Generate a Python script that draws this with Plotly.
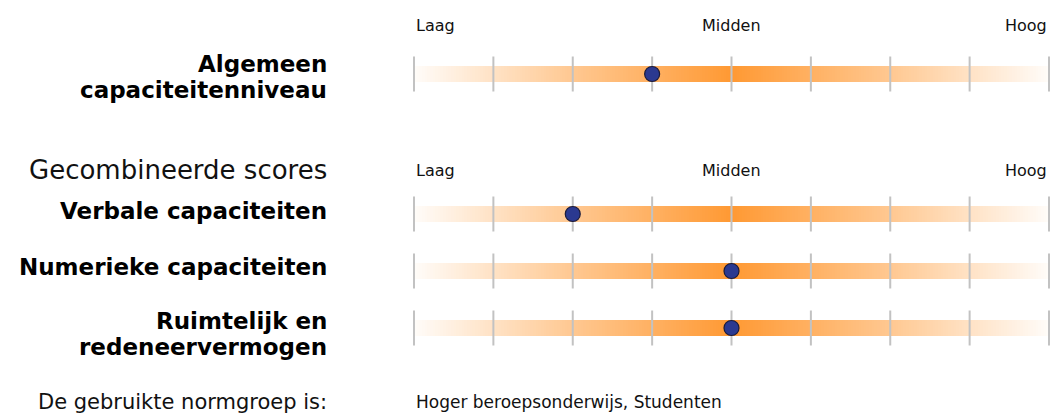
import numpy as np
import plotly.graph_objects as go

# ---- data ----
scale_labels = ["Laag", "Midden", "Hoog"]
scale_label_pos = [0, 4, 8]
ticks = [0, 1, 2, 3, 4, 5, 6, 7, 8]
categories = [["Algemeen", "capaciteitenniveau"], ["Verbale capaciteiten"],
              ["Numerieke capaciteiten"], ["Ruimtelijk en", "redeneervermogen"]]
scores = [3, 2, 4, 4]
section_title = "Gecombineerde scores"
norm_label = "De gebruikte normgroep is:"
norm_value = "Hoger beroepsonderwijs, Studenten"

# ---- layout constants ----
W, H = 1054, 416
x0_px, x8_px = 414, 1049
span = (ticks[-1] - ticks[0]) * W / (x8_px - x0_px)
r0 = ticks[0] - x0_px / W * span
r1 = r0 + span
row_y = [74, 214, 271, 328]
scale_y = [25, 170]
bar_h = 16
label_x = 329 / W
line_gap = 26
FONT = "DejaVu Sans"

fig = go.Figure()

# gradient bars
n = 240
edges = np.linspace(ticks[0], ticks[-1], n + 1)
centers = (edges[:-1] + edges[1:]) / 2
mid = (ticks[0] + ticks[-1]) / 2
grad = 1 - np.abs(centers - mid) / (mid - ticks[0])
cs = [[0, "#FFFCF9"], [0.5, "#FFC891"], [1, "#FF9933"]]
for y in row_y:
    fig.add_trace(go.Heatmap(x=edges, y=[y - bar_h / 2, y + bar_h / 2], z=[grad],
                             colorscale=cs, zmin=0, zmax=1, showscale=False,
                             hoverinfo="skip"))

# tick marks
for y in row_y:
    fig.add_trace(go.Scatter(x=ticks, y=[y] * len(ticks), mode="markers",
                             marker=dict(symbol="line-ns", size=25,
                                         line=dict(width=2, color="#C2C2C2")),
                             hoverinfo="skip", showlegend=False, cliponaxis=False))

# score dots
fig.add_trace(go.Scatter(x=scores, y=row_y, mode="markers",
                         marker=dict(size=15, color="#2B3990",
                                     line=dict(width=1.2, color="#1B1B3A")),
                         showlegend=False, cliponaxis=False))

ann = []
# scale labels
for sy in scale_y:
    for lab, p in zip(scale_labels, scale_label_pos):
        xa = "left" if p == ticks[0] else ("right" if p == ticks[-1] else "center")
        ann.append(dict(x=p, y=sy, xref="x", yref="y", text=lab, showarrow=False,
                        xanchor=xa, yanchor="middle",
                        font=dict(family=FONT, size=16, color="#111111")))
# category labels (one annotation per line)
label_center = [77, 211, 267, 334]
for lines, yc in zip(categories, label_center):
    k = len(lines)
    for i, ln in enumerate(lines):
        y = yc + (i - (k - 1) / 2) * line_gap
        ann.append(dict(x=label_x, y=y, xref="paper", yref="y", text="<b>" + ln + "</b>",
                        showarrow=False, xanchor="right", yanchor="middle",
                        font=dict(family=FONT, size=23, color="#000000")))
ann.append(dict(x=label_x, y=170, xref="paper", yref="y", text=section_title,
                showarrow=False, xanchor="right", yanchor="middle",
                font=dict(family=FONT, size=26, color="#111111")))
ann.append(dict(x=label_x, y=402, xref="paper", yref="y", text=norm_label,
                showarrow=False, xanchor="right", yanchor="middle",
                font=dict(family=FONT, size=21, color="#111111")))
ann.append(dict(x=ticks[0], y=402, xref="x", yref="y", text=norm_value,
                showarrow=False, xanchor="left", yanchor="middle",
                font=dict(family=FONT, size=17, color="#111111")))

fig.update_layout(
    width=W, height=H, margin=dict(l=0, r=0, t=0, b=0),
    paper_bgcolor="white", plot_bgcolor="white",
    xaxis=dict(range=[r0, r1], visible=False, fixedrange=True),
    yaxis=dict(range=[H, 0], visible=False, fixedrange=True),
    annotations=ann, showlegend=False,
)
fig.write_html("out.html", config={"displayModeBar": False},
               post_script="document.body.style.margin='0';document.body.style.overflow='hidden';")
